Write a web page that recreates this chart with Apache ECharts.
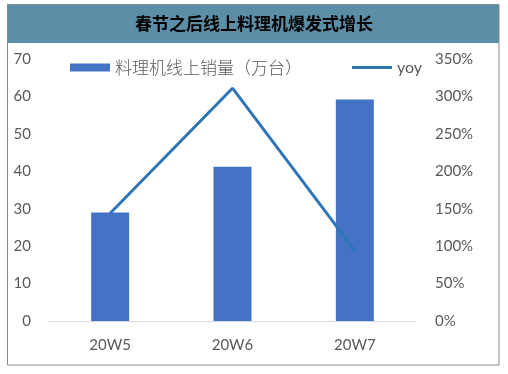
<!DOCTYPE html>
<html><head><meta charset="utf-8">
<script src="https://cdn.jsdelivr.net/npm/echarts@6/dist/echarts.min.js"></script>
<style>html,body{margin:0;padding:0;background:#fff}#c{width:508px;height:374px}</style>
</head><body><div id="c"></div>
<script>
var categories = ['20W5', '20W6', '20W7'];
var salesValues = [29, 41.2, 59.2];
var yoyValues = [144, 311, 94];
var leftTicks = [0, 70, 10];
var rightTicks = [0, 350, 50];
var titleText = '春节之后线上料理机爆发式增长';
var barName = '料理机线上销量（万台）';
var lineName = 'yoy';

var chart = echarts.init(document.getElementById('c'));
var gray = '#595959';
chart.setOption({
  animation: false,
  graphic: [
    {type: 'rect', shape: {x: 7, y: 4, width: 492, height: 39}, style: {fill: '#5B8FA7'}, z: 0},
    {type: 'rect', shape: {x: 7.5, y: 4.5, width: 491.5, height: 360.5}, style: {fill: 'none', stroke: '#8a8a8a', lineWidth: 1}, z: 0},
    {type: 'text', x: 254, y: 24, style: {text: titleText, fill: '#000', font: 'bold 17px "Noto Sans CJK SC"', textAlign: 'center', textVerticalAlign: 'middle'}, z: 10}
  ],
  grid: {left: 49, right: 92, top: 59, bottom: 53},
  legend: {
    top: 54, left: 65, itemGap: 50, itemWidth: 40, itemHeight: 8, symbolKeepAspect: true,
    textStyle: {color: gray, fontSize: 17, fontFamily: '"Noto Sans CJK SC"', fontWeight: 300},
    data: [
      {name: barName, icon: 'rect'},
      {name: lineName, icon: 'path://M0,0L40,0L40,3L0,3Z', itemStyle: {color: '#2E75B6'},
       textStyle: {fontFamily: 'Lato', fontSize: 16, fontWeight: 'normal'}}
    ]
  },
  xAxis: {
    type: 'category', data: categories,
    axisLine: {lineStyle: {color: '#d9d9d9', width: 1}},
    axisTick: {show: false},
    axisLabel: {color: gray, fontSize: 15, fontFamily: 'Lato', margin: 17}
  },
  yAxis: [
    {type: 'value', min: leftTicks[0], max: leftTicks[1], interval: leftTicks[2],
     splitLine: {show: false}, axisLine: {show: false}, axisTick: {show: false},
     axisLabel: {color: gray, fontSize: 15, fontFamily: 'Lato', margin: 18}},
    {type: 'value', min: rightTicks[0], max: rightTicks[1], interval: rightTicks[2],
     splitLine: {show: false}, axisLine: {show: false}, axisTick: {show: false},
     axisLabel: {color: gray, fontSize: 15, fontFamily: 'Lato', margin: 19, formatter: '{value}%'}}
  ],
  series: [
    {name: barName, type: 'bar', data: salesValues, barWidth: 38, itemStyle: {color: '#4472C4'}},
    {name: lineName, type: 'line', yAxisIndex: 1, data: yoyValues, showSymbol: false, symbol: 'none',
     lineStyle: {color: '#2E75B6', width: 3}, itemStyle: {color: '#2E75B6'}}
  ]
});
</script></body></html>
